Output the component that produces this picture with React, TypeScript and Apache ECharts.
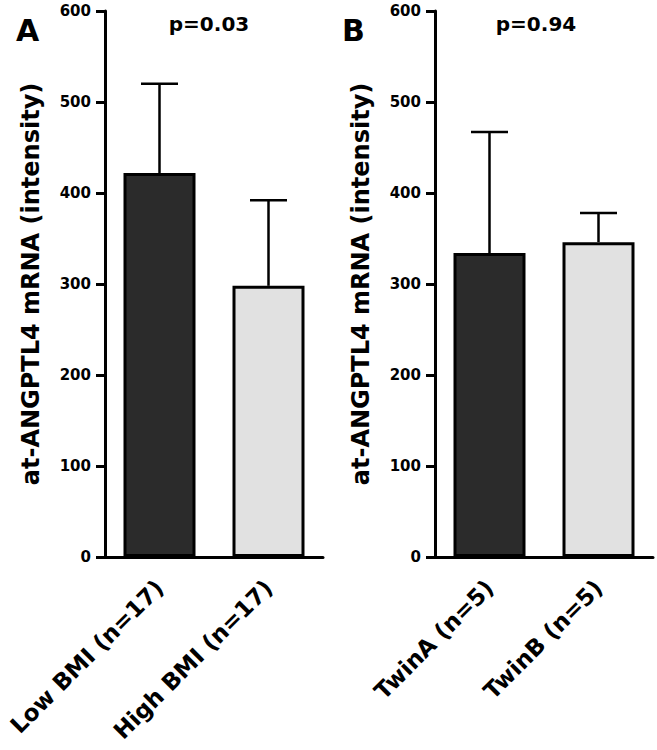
import React, { useEffect, useRef } from "react";
import * as echarts from "echarts";

const categoriesA = ["Low BMI (n=17)", "High BMI (n=17)"];
const meansA = [422, 298];
const sdA = [98, 94];
const categoriesB = ["TwinA (n=5)", "TwinB (n=5)"];
const meansB = [334, 346];
const sdB = [133, 32];
const barColors = ["#2b2b2b", "#e1e1e1"];
const pValues = ["p=0.03", "p=0.94"];
const panelLetters = ["A", "B"];
const yName = "at-ANGPTL4 mRNA (intensity)";

const FONT = "DejaVu Sans";

export default function App() {
  const ref = useRef<HTMLDivElement>(null);
  useEffect(() => {
    document.body.style.margin = "0";
    const chart = echarts.init(ref.current!, null, { renderer: "svg" });
    const grids = [
      { left: 105, top: 11, width: 218, height: 546, outerBoundsMode: "none", containLabel: false },
      { left: 435, top: 11, width: 218, height: 546, outerBoundsMode: "none", containLabel: false },
    ];
    const cats = [categoriesA, categoriesB];
    const means = [meansA, meansB];
    const sds = [sdA, sdB];

    const xAxis = cats.map((c, gi) => ({
      type: "category",
      gridIndex: gi,
      data: c,
      boundaryGap: true,
      axisLine: { lineStyle: { color: "#000", width: 3 } },
      axisTick: { alignWithLabel: true, length: 8, lineStyle: { color: "#000", width: 3 } },
      axisLabel: {
        rotate: 45,
        margin: 27,
        color: "#000",
        fontFamily: FONT,
        fontWeight: "bold",
        fontSize: 23,
        interval: 0,
      },
    }));
    const yAxis = cats.map((_, gi) => ({
      type: "value",
      gridIndex: gi,
      min: 0,
      max: 600,
      interval: 100,
      name: yName,
      nameLocation: "middle",
      nameRotate: 90,
      nameGap: 62,
      nameTextStyle: { color: "#000", fontFamily: FONT, fontWeight: "bold", fontSize: 24 },
      splitLine: { show: false },
      axisLine: { show: true, lineStyle: { color: "#000", width: 3 } },
      axisTick: { show: true, length: 9, lineStyle: { color: "#000", width: 3 } },
      axisLabel: { margin: 14, color: "#000", fontFamily: FONT, fontWeight: "bold", fontSize: 15 },
    }));

    const series: any[] = [];
    cats.forEach((c, gi) => {
      series.push({
        type: "bar",
        xAxisIndex: gi,
        yAxisIndex: gi,
        barWidth: 72,
        data: means[gi].map((v, i) => ({
          value: v,
          itemStyle: { color: barColors[i], borderColor: "#000", borderWidth: 3 },
        })),
        z: 2,
      });
      series.push({
        type: "custom",
        xAxisIndex: gi,
        yAxisIndex: gi,
        z: 3,
        data: means[gi].map((v, i) => [i, v, sds[gi][i]]),
        encode: { x: 0, y: 1 },
        renderItem: (params: any, api: any) => {
          const i = api.value(0);
          const m = api.value(1);
          const s = api.value(2);
          const p0 = api.coord([i, m]);
          const p1 = api.coord([i, m + s]);
          return {
            type: "group",
            children: [
              {
                type: "line",
                shape: { x1: p0[0], y1: p0[1], x2: p1[0], y2: p1[1] },
                style: { stroke: "#000", lineWidth: 2.5 },
              },
              {
                type: "line",
                shape: { x1: p1[0] - 18.5, y1: p1[1], x2: p1[0] + 18.5, y2: p1[1] },
                style: { stroke: "#000", lineWidth: 2.5 },
              },
            ],
          };
        },
      });
    });

    const graphic: any[] = [
      {
        type: "text",
        left: 16,
        top: 15,
        style: { text: panelLetters[0], font: `bold 30px "${FONT}"`, fill: "#000" },
      },
      {
        type: "text",
        left: 342,
        top: 15,
        style: { text: panelLetters[1], font: `bold 30px "${FONT}"`, fill: "#000" },
      },
      {
        type: "text",
        x: 209,
        y: 24,
        style: {
          text: pValues[0],
          font: `bold 20px "${FONT}"`,
          fill: "#000",
          textAlign: "center",
          textVerticalAlign: "middle",
        },
      },
      {
        type: "text",
        x: 536,
        y: 24,
        style: {
          text: pValues[1],
          font: `bold 20px "${FONT}"`,
          fill: "#000",
          textAlign: "center",
          textVerticalAlign: "middle",
        },
      },
    ];

    chart.setOption({
      animation: false,
      backgroundColor: "#fff",
      grid: grids,
      xAxis,
      yAxis,
      series,
      graphic,
    } as any);
    return () => chart.dispose();
  }, []);
  return <div ref={ref} style={{ width: 657, height: 750 }} />;
}
